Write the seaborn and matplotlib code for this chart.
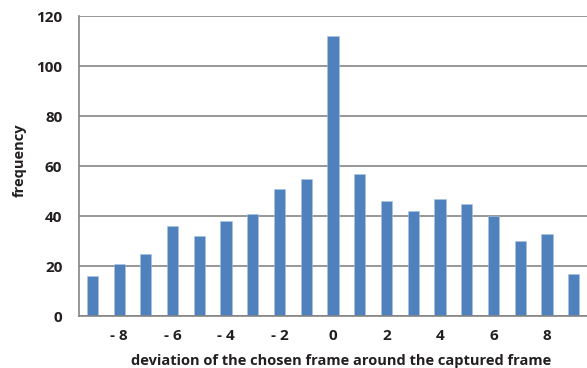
import numpy as np
import pandas as pd
import matplotlib
matplotlib.use("Agg")
import matplotlib.pyplot as plt
import seaborn as sns

# values
deviation = [-9, -8, -7, -6, -5, -4, -3, -2, -1, 0, 1, 2, 3, 4, 5, 6, 7, 8, 9]
frequency = [16, 21, 25, 36, 32, 38, 41, 51, 55, 112, 57, 46, 42, 47, 45, 40, 30, 33, 17]
y_ticks = [0, 20, 40, 60, 80, 100, 120]
x_label_values = [-8, -6, -4, -2, 0, 2, 4, 6, 8]

sns.set_style("white")
plt.rcParams['font.family'] = ['Open Sans', 'DejaVu Sans']

df = pd.DataFrame({"deviation": deviation, "frequency": frequency})

fig = plt.figure(figsize=(5.87, 3.68), dpi=100)
ax = fig.add_axes([0.1346, 0.1413, 0.8654, 0.8152])

grid_col = "#858585"
txt_col = "#231f20"
for v in y_ticks:
    ax.axhline(v, color=grid_col, lw=1.2, zorder=0)

sns.barplot(data=df, x="deviation", y="frequency", order=deviation,
            color="#4F81BD", saturation=1, width=0.42, ax=ax, zorder=2,
            edgecolor="#a9c3e3", linewidth=0.4)

ax.set_ylim(0, 120)
ax.set_xlim(-0.5, len(deviation) - 0.5 - 0.26)
ax.set_yticks(y_ticks)
ax.set_yticklabels([str(v) for v in y_ticks], fontweight="bold", fontsize=11, color=txt_col)

pos = [deviation.index(v) for v in x_label_values]
ax.set_xticks(pos)
ax.set_xticklabels([("- " + str(-v)) if v < 0 else str(v) for v in x_label_values],
                   fontweight="bold", fontsize=11, color=txt_col)
ax.tick_params(axis="x", which="major", length=0, pad=9)
ax.set_xticks(np.arange(-0.5, len(deviation), 1.0), minor=True)
ax.tick_params(axis="x", which="minor", length=3, color=grid_col, width=1.2, direction="out")
ax.tick_params(axis="y", length=3, color=grid_col, width=1.2, direction="out", pad=9)

for s in ["top", "right"]:
    ax.spines[s].set_visible(False)
ax.spines["left"].set_color(grid_col)
ax.spines["left"].set_linewidth(1.2)
ax.spines["bottom"].set_color(grid_col)
ax.spines["bottom"].set_linewidth(1.2)

ax.set_xlabel("deviation of the chosen frame around the captured frame",
              fontweight="bold", fontsize=10.5, color=txt_col)
ax.xaxis.set_label_coords(0.516, -0.128)
ax.set_ylabel("frequency", fontweight="bold", fontsize=10.5, color=txt_col)
ax.yaxis.set_label_coords(-0.102, 0.52)

fig.savefig("out.png", dpi=100)
